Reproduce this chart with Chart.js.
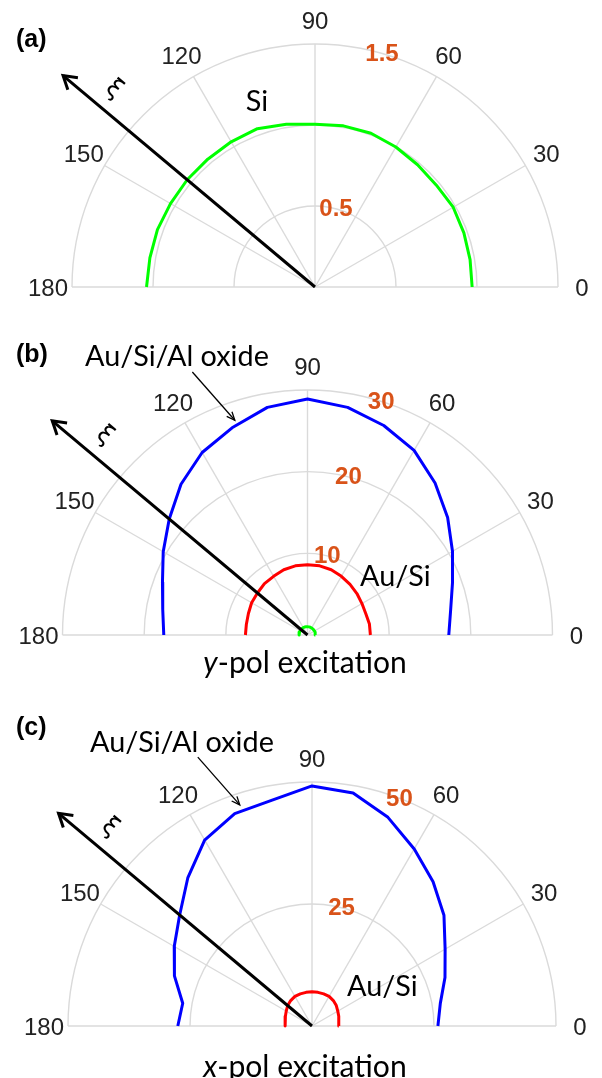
<!DOCTYPE html>
<html><head><meta charset="utf-8">
<script src="https://cdn.jsdelivr.net/npm/chart.js@4/dist/chart.umd.min.js"></script>
<style>
html,body{margin:0;padding:0;background:#fff;width:602px;height:1078px;overflow:hidden}
canvas{position:absolute;left:0}
</style></head><body>
<canvas id="ca" width="602" height="330" style="top:0px"></canvas>
<canvas id="cb" width="602" height="370" style="top:330px"></canvas>
<canvas id="cc" width="602" height="378" style="top:700px"></canvas>
<script>
// ---------- data ----------
const angles = [0,10,20,30,40,50,60,70,80,90,100,110,120,130,140,150,160,170,180];
const angleTicks  = [0,30,60,90,120,150,180];
const angleLabels = ['0','30','60','90','120','150','180'];

// (a) Si
const siR = [0.97,0.972,0.978,0.985,0.978,0.985,0.998,1.01,1.01,1.005,1.02,1.04,1.035,1.03,1.03,1.03,1.035,1.035,1.04];
// (b) y-pol excitation
const auSiY     = [7.7,7.7,7.6,7.7,7.9,8.1,8.3,8.5,8.6,8.6,8.6,8.5,8.3,8.2,8.0,7.9,7.7,7.6,7.6];
const auSiAlOxY = [17.3,17.8,18.9,20.5,22.4,24.3,26.1,27.3,28.3,28.9,28.3,27.0,25.8,24.1,22.1,20.4,18.9,18.0,17.6];
// (c) x-pol excitation
const auSiX     = [5.5,5.6,5.8,6.1,6.5,6.8,7.0,7.0,7.0,7.0,7.0,7.0,7.0,6.8,6.5,6.1,5.8,5.6,5.5];
const auSiAlOxX = [25.8,26.7,29.0,31.5,35.3,38.6,41.9,45.5,48.5,49.2,47.0,46.3,44.0,39.6,35.4,32.6,30.0,26.9,27.5];

// radial ticks
const ringsA = [0.5,1.0,1.5],  ringLabelsA = [0.5,1.5];
const ringsB = [10,20,30],     ringLabelsB = [10,20,30];
const ringsC = [25,50],        ringLabelsC = [25,50];

// wave-vector (xi) arrow: direction (deg) and length (data units)
const xiAngle = 140;
const xiLenA = 2.03, xiLenB = 40.8, xiLenC = 67.8;

// ---------- helpers ----------
const D2R = Math.PI/180;
function polar(angs, rs){ return angs.map((a,i)=>({x: rs[i]*Math.cos(a*D2R), y: rs[i]*Math.sin(a*D2R)})); }

const CAL = 'Lato, "Open Sans", sans-serif';
const ARIAL = '"Liberation Sans", Arial, sans-serif';

function fitSize(ctx, text, fontTpl, target){
  ctx.font = fontTpl(100);
  return 100*target/ctx.measureText(text).width;
}

function arrowHead(ctx, x1,y1,x2,y2,len,ang){
  const t = Math.atan2(y2-y1, x2-x1);
  ctx.beginPath();
  ctx.moveTo(x2 - len*Math.cos(t-ang), y2 - len*Math.sin(t-ang));
  ctx.lineTo(x2,y2);
  ctx.lineTo(x2 - len*Math.cos(t+ang), y2 - len*Math.sin(t+ang));
  ctx.stroke();
}

function makePlugin(p){
  return {
    id:'polarDeco_'+p.id,
    beforeDatasetsDraw(chart){
      const {ctx, scales:{x,y}} = chart;
      const cx = x.getPixelForValue(0), cy = y.getPixelForValue(0);
      const R = x.getPixelForValue(p.max) - cx;
      const k = R/p.max;
      ctx.save();
      ctx.strokeStyle = '#dadada'; ctx.lineWidth = 1.4;
      p.rings.forEach(v=>{ ctx.beginPath(); ctx.arc(cx,cy,v*k,Math.PI,2*Math.PI); ctx.stroke(); });
      angleTicks.forEach(a=>{
        ctx.beginPath(); ctx.moveTo(cx,cy);
        ctx.lineTo(cx+R*Math.cos(a*D2R), cy-R*Math.sin(a*D2R)); ctx.stroke();
      });
      // angle labels
      ctx.fillStyle = '#222'; ctx.font = '24px '+ARIAL;
      ctx.textAlign='center'; ctx.textBaseline='middle';
      angleTicks.forEach((a,i)=>{
        const rr = R + 24;
        ctx.fillText(angleLabels[i], cx+rr*Math.cos(a*D2R), cy-rr*Math.sin(a*D2R)+2);
      });
      ctx.restore();
    },
    afterDatasetsDraw(chart){
      const {ctx, scales:{x,y}} = chart;
      const cx = x.getPixelForValue(0), cy = y.getPixelForValue(0);
      const R = x.getPixelForValue(p.max) - cx;
      const k = R/p.max;
      const px = (dx,dy)=>[x.getPixelForValue(dx), y.getPixelForValue(dy)];
      ctx.save();
      // ring labels
      ctx.fillStyle = '#D95319'; ctx.font = 'bold 24px '+ARIAL;
      ctx.textAlign='center'; ctx.textBaseline='middle';
      p.ringLabels.forEach((v,i)=>{
        const a = p.ringLabelAng[i]*D2R;
        ctx.fillText(String(v), cx+v*k*Math.cos(a), cy-v*k*Math.sin(a)+1);
      });
      // xi arrow head
      const meta = chart.getDatasetMeta(0);
      const p0 = meta.data[0], p1 = meta.data[1];
      ctx.strokeStyle='#000'; ctx.lineWidth=3; ctx.lineJoin='miter'; ctx.lineCap='butt';
      arrowHead(ctx, p0.x,p0.y,p1.x,p1.y,15,0.55);
      // xi symbol
      const xr = 1.16*p.max, xa = 135.5*D2R;
      const [sx,sy] = px(xr*Math.cos(xa), xr*Math.sin(xa));
      ctx.save(); ctx.translate(sx,sy); ctx.rotate(40*D2R);
      ctx.fillStyle='#000'; ctx.font = '25px "DejaVu Sans", sans-serif';
      ctx.textAlign='center'; ctx.textBaseline='middle';
      ctx.fillText('ξ',0,0); ctx.restore();
      // panel letter
      ctx.fillStyle='#000'; ctx.font='bold 25px '+ARIAL; ctx.textAlign='left'; ctx.textBaseline='middle';
      ctx.fillText(p.letter, 16, p.letterY);
      // labels
      const fs = fitSize(ctx,'Au/Si/Al oxide', s=>s+'px '+CAL, 184);
      ctx.font = fs.toFixed(1)+'px '+CAL;
      p.texts.forEach(t=>{
        ctx.textAlign = t.align; ctx.fillText(t.s, t.x, t.y);
      });
      // callout
      if (p.callout){
        const [ax,ay] = px(p.callout[0],p.callout[1]);
        const [bx,by] = px(p.callout[2],p.callout[3]);
        ctx.lineWidth=1.3; ctx.beginPath(); ctx.moveTo(ax,ay); ctx.lineTo(bx,by); ctx.stroke();
        arrowHead(ctx,ax,ay,bx,by,9,0.4);
      }
      // excitation caption
      if (p.caption){
        const [it, rest] = p.caption;
        const full = it + rest;
        const cs = fitSize(ctx, full, s=>s+'px '+CAL, 204);
        ctx.font = cs.toFixed(1)+'px '+CAL;
        const w2 = ctx.measureText(rest).width;
        ctx.font = 'italic '+cs.toFixed(1)+'px '+CAL;
        const w1 = ctx.measureText(it).width;
        const x0 = p.capX - (w1+w2)/2;
        ctx.textAlign='left';
        ctx.fillText(it, x0, p.capY);
        ctx.font = cs.toFixed(1)+'px '+CAL;
        ctx.fillText(rest, x0+w1, p.capY);
      }
      ctx.restore();
    }
  };
}

function makeChart(p, series, xiLen){
  const k = p.R/p.max;
  const ds = [{
    data: polar([xiAngle, xiAngle],[0, xiLen]),
    borderColor:'#000', borderWidth:3, showLine:true, pointRadius:0, clip:false
  }];
  series.forEach(s=>ds.push({
    data: polar(angles, s.r), borderColor:s.color, borderWidth:3, showLine:true,
    pointRadius:0, tension:0, clip:false, borderJoinStyle:'round'
  }));
  new Chart(document.getElementById(p.id), {
    type:'scatter',
    data:{datasets:ds},
    options:{
      responsive:false, animation:false, devicePixelRatio:1, events:[],
      layout:{padding:0},
      plugins:{legend:{display:false}, tooltip:{enabled:false}},
      scales:{
        x:{type:'linear', display:false, min:-p.cx/k, max:(602-p.cx)/k},
        y:{type:'linear', display:false, min:-(p.H-p.cy)/k, max:p.cy/k}
      }
    },
    plugins:[makePlugin(p)]
  });
}

makeChart({id:'ca', H:330, cx:315, cy:287, R:243, max:1.5,
  rings:ringsA, ringLabels:ringLabelsA, ringLabelAng:[75,74],
  letter:'(a)', letterY:40,
  texts:[{s:'Si', x:257, y:102, align:'center'}]
}, [{r:siR, color:'#00ff00'}], xiLenA);

makeChart({id:'cb', H:370, cx:307.5, cy:305, R:245, max:30,
  rings:ringsB, ringLabels:ringLabelsB, ringLabelAng:[76,75.5,72.5],
  letter:'(b)', letterY:25,
  texts:[{s:'Au/Si/Al oxide', x:85, y:27, align:'left'},{s:'Au/Si', x:360, y:247, align:'left'}],
  callout:[-14.1,32.2,-8.9,26.3],
  caption:['y','-pol excitation'], capX:305, capY:333
}, [{r:auSiAlOxY, color:'#0000ff'},{r:auSiY, color:'#ff0000'},{r:siR, color:'#00ff00'}], xiLenB);

makeChart({id:'cc', H:378, cx:312, cy:326, R:244, max:50,
  rings:ringsC, ringLabels:ringLabelsC, ringLabelAng:[76,69],
  letter:'(c)', letterY:28,
  texts:[{s:'Au/Si/Al oxide', x:90, y:43, align:'left'},{s:'Au/Si', x:347, y:287, align:'left'}],
  callout:[-23.4,55.1,-14.8,45.3],
  caption:['x','-pol excitation'], capX:305, capY:367
}, [{r:auSiAlOxX, color:'#0000ff'},{r:auSiX, color:'#ff0000'}], xiLenC);
</script>
</body></html>
